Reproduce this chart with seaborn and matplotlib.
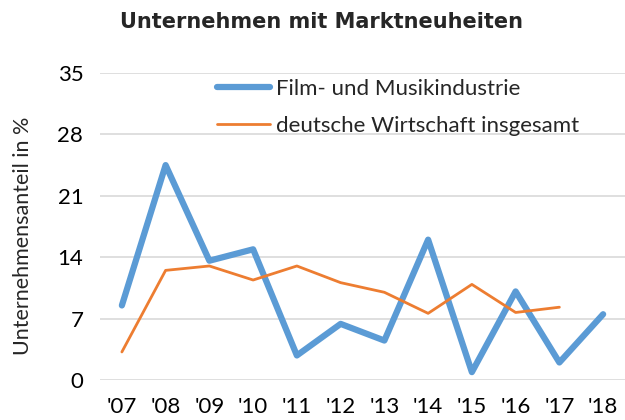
import numpy as np
import pandas as pd
import matplotlib
matplotlib.use("Agg")
import matplotlib.pyplot as plt
import seaborn as sns
from matplotlib.lines import Line2D

years = ["'07", "'08", "'09", "'10", "'11", "'12", "'13", "'14", "'15", "'16", "'17", "'18"]
film_musik = [8.5, 24.5, 13.6, 14.9, 2.8, 6.4, 4.5, 16.0, 0.9, 10.1, 2.0, 7.5]
wirtschaft = [3.2, 12.5, 13.0, 11.4, 13.0, 11.1, 10.0, 7.6, 10.9, 7.7, 8.3, np.nan]
series_names = ["Film- und Musikindustrie", "deutsche Wirtschaft insgesamt"]
yticks = [0, 7, 14, 21, 28, 35]

df = pd.DataFrame({
    "x": list(range(len(years))) * 2,
    "value": film_musik + wirtschaft,
    "series": [series_names[0]] * len(years) + [series_names[1]] * len(years),
})

sns.set_theme(style="white")
plt.rcParams['font.family'] = ['Lato', 'DejaVu Sans']

fig = plt.figure(figsize=(6.25, 4.2), dpi=100)
ax = fig.add_axes([0.16, 0.0952, 0.84, 0.731])

blue, orange = "#5B9BD5", "#ED7D31"
palette = {series_names[0]: blue, series_names[1]: orange}
sns.lineplot(data=df, x="x", y="value", hue="series", palette=palette,
             size="series", sizes={series_names[0]: 4.5, series_names[1]: 2.0},
             ax=ax, legend=False)

ax.set_xlim(-0.5, len(years) - 0.5)
ax.set_ylim(0, 35)
ax.set_yticks(yticks)
ax.set_xticks(range(len(years)))
ax.set_xticklabels(years)
ax.tick_params(axis='both', labelsize=16, length=0, colors="#000000")
ax.tick_params(axis='x', pad=12)
ax.tick_params(axis='y', pad=12)
ax.yaxis.grid(True, color="#D9D9D9", linewidth=1.2)
ax.set_axisbelow(True)
for s in ax.spines.values():
    s.set_visible(False)
ax.set_xlabel("")
ax.set_ylabel("Unternehmensanteil in %", fontsize=15.5)
ax.yaxis.set_label_coords(-0.128, 0.47)

handles = [Line2D([0], [0], color=blue, lw=4.5, solid_capstyle='round'),
           Line2D([0], [0], color=orange, lw=2.0)]
ax.legend(handles, series_names, loc="upper left", bbox_to_anchor=(0.223, 0.98),
          frameon=False, fontsize=16, handlelength=2.4, handletextpad=0.25,
          labelspacing=0.75, borderpad=0, borderaxespad=0)

fig.text(0.515, 0.948, "Unternehmen mit Marktneuheiten", ha="center", va="center",
         fontsize=15, fontweight="bold", family=["DejaVu Sans"])

fig.savefig("out.png", dpi=100)
